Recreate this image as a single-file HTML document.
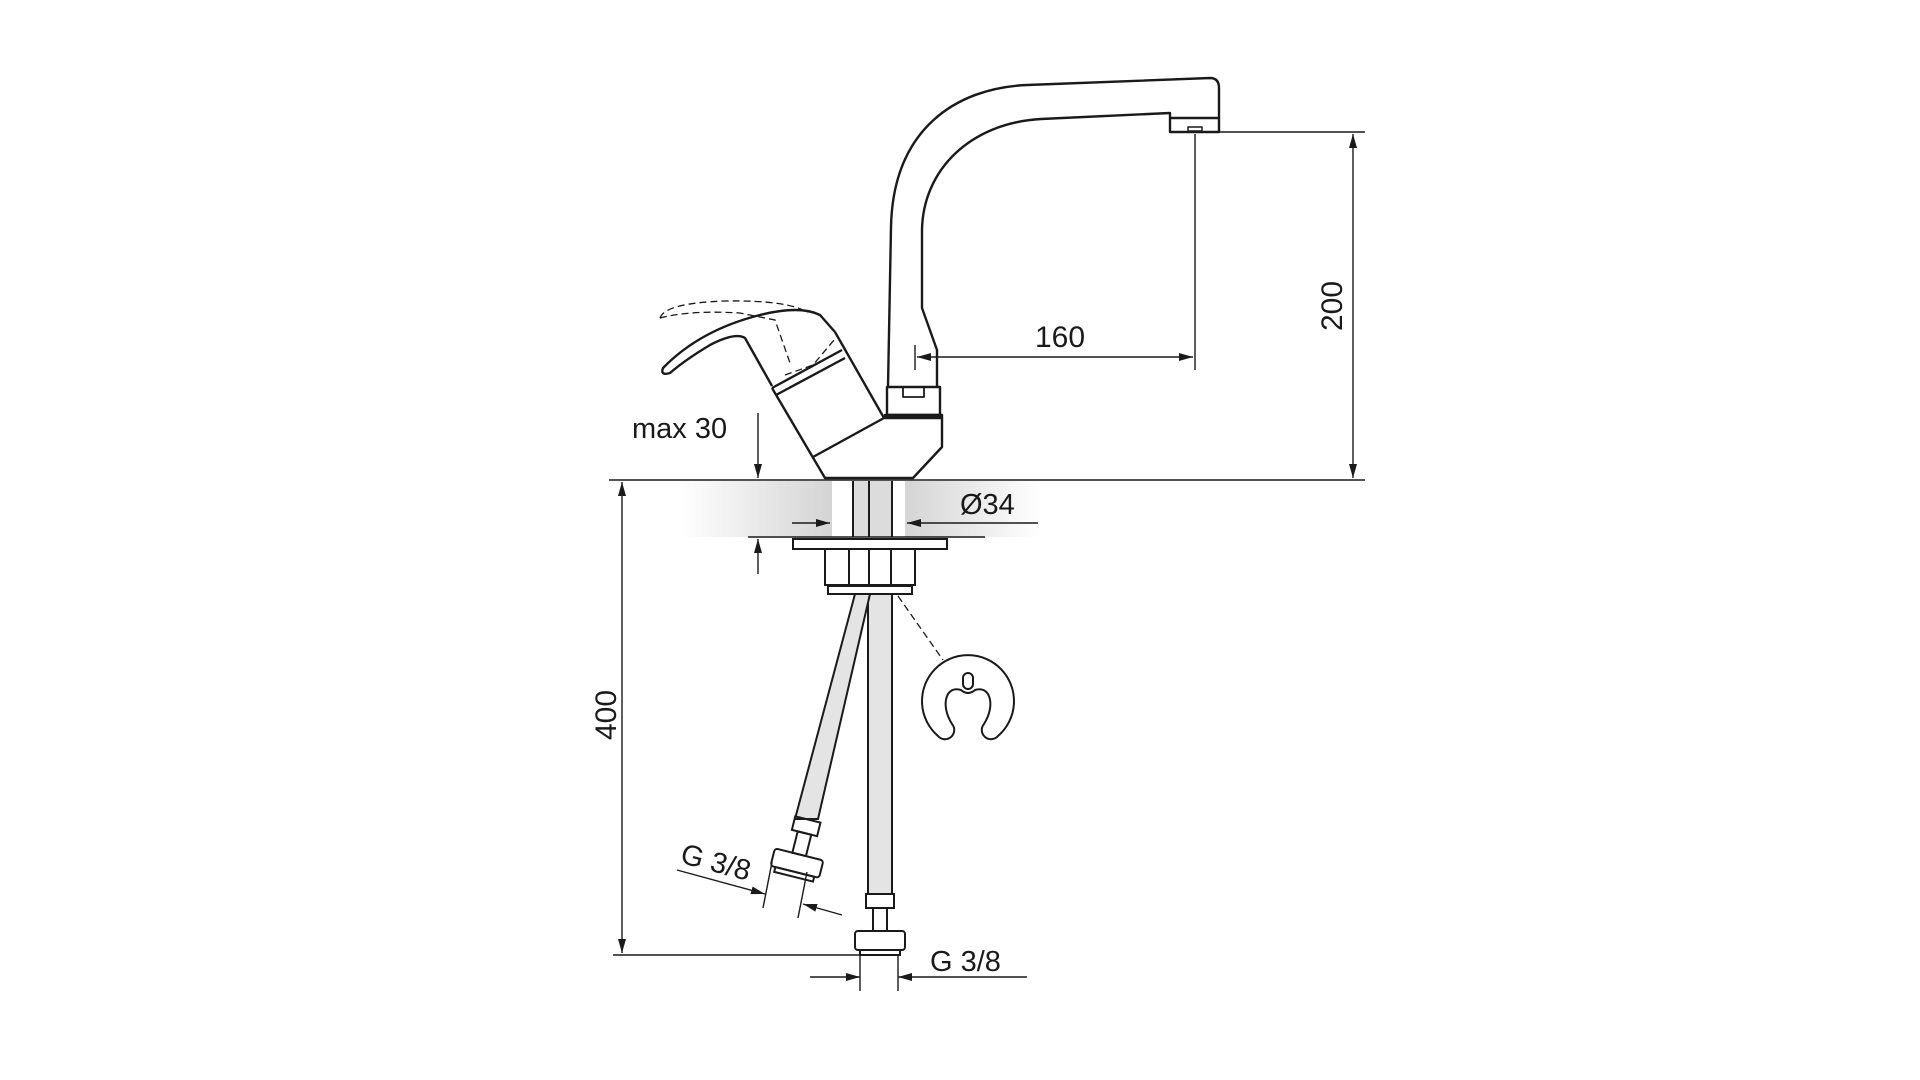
<!DOCTYPE html>
<html><head><meta charset="utf-8"><style>
html,body{margin:0;padding:0;background:#fff;}
svg{display:block;}
text{font-family:"Liberation Sans",sans-serif;fill:#1a1a1a;}
</style></head><body>
<svg width="1920" height="1080" viewBox="0 0 1920 1080" xmlns="http://www.w3.org/2000/svg">
<defs>
<linearGradient id="gl" x1="0" x2="1" y1="0" y2="0"><stop offset="0" stop-color="#fff"/><stop offset="1" stop-color="#d4d4d4"/></linearGradient>
<linearGradient id="gr" x1="0" x2="1" y1="0" y2="0"><stop offset="0" stop-color="#d4d4d4"/><stop offset="1" stop-color="#fff"/></linearGradient>
<marker id="a" viewBox="0 0 14 10" refX="14" refY="5" markerWidth="14" markerHeight="10" markerUnits="userSpaceOnUse" orient="auto-start-reverse"><path d="M0,1 L14,5 L0,9z" fill="#1a1a1a"/></marker>
</defs>
<rect x="680" y="481" width="152" height="56" fill="url(#gl)"/>
<rect x="853" y="481" width="38" height="56" fill="#dcdcdc"/>
<rect x="905" y="481" width="135" height="56" fill="url(#gr)"/>
<g fill="none" stroke="#1a1a1a" stroke-width="2.4" stroke-linejoin="round">
<path d="M888,387 L891,227 C893,130 955,88 1027,85 L1210,78 Q1219,78 1219,88 L1219,132 L1170,132 L1170,113 L1041,119 C970,123 923,170 922,230 L922,308 L937,350 L937,387"/>
<line x1="1171" y1="118" x2="1218" y2="118"/>
<rect x="1188" y="127" width="14" height="4" stroke-width="1.5"/>
<rect x="887" y="387" width="53" height="28"/>
<path d="M903,388 L903,397 L924,397 L924,388" stroke-width="1.8"/>
<rect x="885" y="415" width="57" height="3" fill="#1a1a1a"/>
<path d="M942,418 L942,447 L913,478 L825,478 L772,388"/>
<line x1="813" y1="457" x2="884" y2="418"/>
<path d="M884,418 L835,332"/>
<path d="M772,388 L842,350 M776,395 L845,358"/>
<path d="M772,386 L745,338 Q735,332 710,345 Q685,360 670,373 Q660,376 663,368 Q700,330 760,315 Q800,305 820,315 L835,332"/>
</g>
<g fill="none" stroke="#1a1a1a" stroke-width="1.3" stroke-dasharray="7,4">
<path d="M660,318 Q665,303 725,301 Q790,300 808,313"/>
<path d="M660,318 Q690,310 740,313 Q760,317 775,320 L790,363"/>
<path d="M785,375 L813,365 L834,340"/>
<path d="M898,596 L943,660"/>
</g>
<g stroke="#1a1a1a" stroke-width="1.4" fill="none">
<line x1="609" y1="480" x2="1365" y2="480"/>
<line x1="1194" y1="132" x2="1365" y2="132"/>
<line x1="1353" y1="134" x2="1353" y2="478" marker-start="url(#a)" marker-end="url(#a)"/>
<line x1="1195" y1="134" x2="1195" y2="370"/>
<line x1="915" y1="345" x2="915" y2="370"/>
<line x1="917" y1="357" x2="1193" y2="357" marker-start="url(#a)" marker-end="url(#a)"/>
<line x1="758" y1="413" x2="758" y2="478" marker-end="url(#a)"/>
<line x1="758" y1="574" x2="758" y2="539" marker-end="url(#a)"/>
<line x1="748" y1="537" x2="985" y2="537"/>
<line x1="792" y1="523" x2="830" y2="523" marker-end="url(#a)"/>
<line x1="1038" y1="523" x2="907" y2="523" marker-end="url(#a)"/>
<line x1="622" y1="482" x2="622" y2="953" marker-start="url(#a)" marker-end="url(#a)"/>
<line x1="613" y1="955" x2="860" y2="955"/>
<line x1="810" y1="977" x2="860" y2="977" marker-end="url(#a)"/>
<line x1="1027" y1="977" x2="898" y2="977" marker-end="url(#a)"/>
<line x1="860" y1="955" x2="860" y2="991"/>
<line x1="898" y1="955" x2="898" y2="991"/>
<line x1="677" y1="870" x2="765" y2="894" marker-end="url(#a)"/>
<line x1="842" y1="915" x2="803" y2="904" marker-end="url(#a)"/>
<line x1="772" y1="862" x2="763" y2="908"/>
<line x1="807" y1="872" x2="798" y2="918"/>
</g>
<g fill="none" stroke="#1a1a1a" stroke-width="2">
<line x1="853" y1="481" x2="853" y2="537"/><line x1="869" y1="481" x2="869" y2="537"/><line x1="892" y1="481" x2="892" y2="537"/>
<rect x="793" y="539" width="154" height="10"/>
<rect x="825" y="549" width="90" height="36"/>
<line x1="849" y1="549" x2="849" y2="585"/><line x1="869" y1="549" x2="869" y2="585"/><line x1="891" y1="549" x2="891" y2="585"/>
<rect x="828" y="586" width="84" height="8"/>
<rect x="868" y="594" width="24" height="300" fill="#e4e4e4"/>
<rect x="866" y="894" width="28" height="14"/>
<rect x="873" y="908" width="14" height="23"/>
<rect x="855" y="931" width="50" height="19" rx="3"/>
<rect x="860" y="950" width="40" height="5"/>
<path d="M855,594 L870,594 L818,819 L795,819 Z" fill="#e4e4e4"/>
<g transform="translate(804,835) rotate(14)">
<rect x="-13" y="-16" width="26" height="14"/>
<rect x="-7" y="-2" width="14" height="22"/>
<rect x="-25" y="20" width="50" height="18" rx="3"/>
<rect x="-20" y="38" width="40" height="5"/>
</g>
<path d="M938,736 A46,46 0 1 1 998,736 A7,7 0 0 1 984,724 C996,705 990,685 975,690 Q968,696 961,690 C946,685 940,705 952,724 A7,7 0 0 1 938,736 Z"/>
<rect x="963" y="673" width="10" height="16" rx="5"/>
</g>
<text x="1060" y="347" font-size="30" text-anchor="middle">160</text>
<text x="1342" y="306" font-size="30" text-anchor="middle" transform="rotate(-90 1342 306)">200</text>
<text x="632" y="438" font-size="29">max 30</text>
<text x="960" y="514" font-size="29">Ø34</text>
<text x="616" y="715" font-size="30" text-anchor="middle" transform="rotate(-90 616 715)">400</text>
<text x="930" y="971" font-size="29">G 3/8</text>
<text x="716" y="872" font-size="29" text-anchor="middle" transform="rotate(15 716 862)">G 3/8</text>
</svg>
</body></html>
